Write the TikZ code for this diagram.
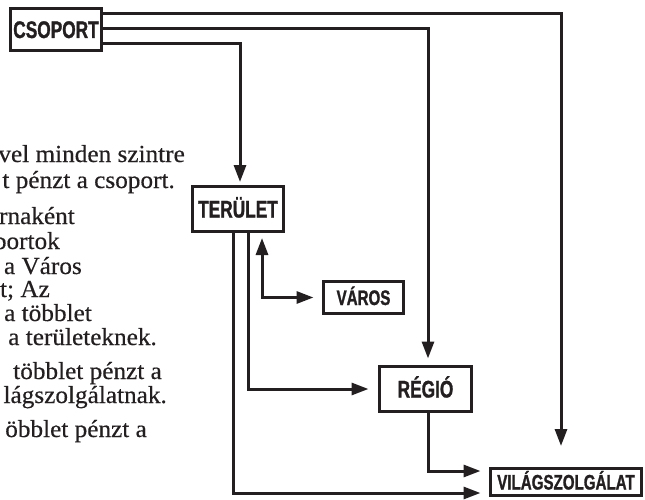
\documentclass[tikz,border=0pt]{standalone}
\usepackage{fontspec}
\setmainfont{Liberation Serif}
\newfontfamily\bodyfont[FakeStretch=1.03,FakeBold=0.4]{Liberation Serif}
\newfontfamily\boxfont[FakeStretch=0.72,FakeBold=1.2]{Liberation Sans Bold}
\usetikzlibrary{arrows.meta,calc}
\definecolor{ink}{HTML}{231F20}
\begin{document}
\begin{tikzpicture}[x=1pt,y=-1pt,
  box/.style={draw=ink,line width=3pt,fill=white,text=ink,inner sep=0pt,
    font=\boxfont\fontsize{24}{24}\selectfont,text height=17pt,text depth=0pt},
  smallbox/.style={box,font=\boxfont\fontsize{21}{21}\selectfont,text height=15pt},
  conn/.style={draw=ink,line width=3pt,-{Triangle[length=17pt,width=12pt]}},
  body/.style={text=ink,inner sep=0pt,anchor=base east,font=\bodyfont\fontsize{24.5}{26}\selectfont}]
\useasboundingbox (0,0) rectangle (645,500);
\clip (0,0) rectangle (645,500);
\fill[white] (0,0) rectangle (645,500);

% left text (clipped)
\node[body] (t1) at (185,162) {vel minden szintre};
\node[body] (t2) at (175,188) {t pénzt a csoport.};
\node[body] (t3) at (75,224) {rnaként};
\node[body] (t4) at (60,249) {portok};
\node[body] (t5) at (82,274) {a Város};
\node[body] (t6) at (50,297) {t; Az};
\node[body] (t7) at (92,321) {a többlet};
\node[body] (t8) at (157,345) {a területeknek.};
\node[body] (t9) at (162,379) {többlet pénzt a};
\node[body] (t10) at (167,403) {lágszolgálatnak.};
\node[body] (t11) at (147,437) {öbblet pénzt a};

% boxes
\node[box,minimum width=91pt,minimum height=42pt] (csoport) at (56,29.5) {CSOPORT};
\node[box,minimum width=91pt,minimum height=45pt] (terulet) at (238,209) {TERÜLET};
\node[smallbox,minimum width=80pt,minimum height=32pt] (varos) at (363.5,297.5) {VÁROS};
\node[box,minimum width=92pt,minimum height=45pt] (regio) at (425.5,389) {RÉGIÓ};
\node[smallbox,minimum width=151pt,minimum height=27pt] (vilag) at (566,482) {VILÁGSZOLGÁLAT};

% connectors
\draw[conn] (csoport.east |- 0,14) -| ([xshift=-5pt,yshift=21pt]vilag.north);
\draw[conn] (csoport.east |- 0,29) -| ([xshift=2.5pt,yshift=6.5pt]regio.north);
\draw[conn] (csoport.east |- 0,44) -| ([xshift=2pt,yshift=3pt]terulet.north);
\draw[conn] ([xshift=-5pt]terulet.south) |- ([xshift=-8.5pt,yshift=-11pt]vilag.west);
\draw[conn] ([xshift=10pt]terulet.south) |- ([xshift=-9.5pt]regio.west);
\draw[conn,{Triangle[length=17pt,width=12pt]}-{Triangle[length=17pt,width=12pt]}]
  ([xshift=24pt,yshift=-5pt]terulet.south) |- ([xshift=-8.5pt]varos.west);
\draw[conn] ([xshift=2.5pt]regio.south) |- ([xshift=-8.5pt,yshift=11pt]vilag.west);
\end{tikzpicture}
\end{document}
